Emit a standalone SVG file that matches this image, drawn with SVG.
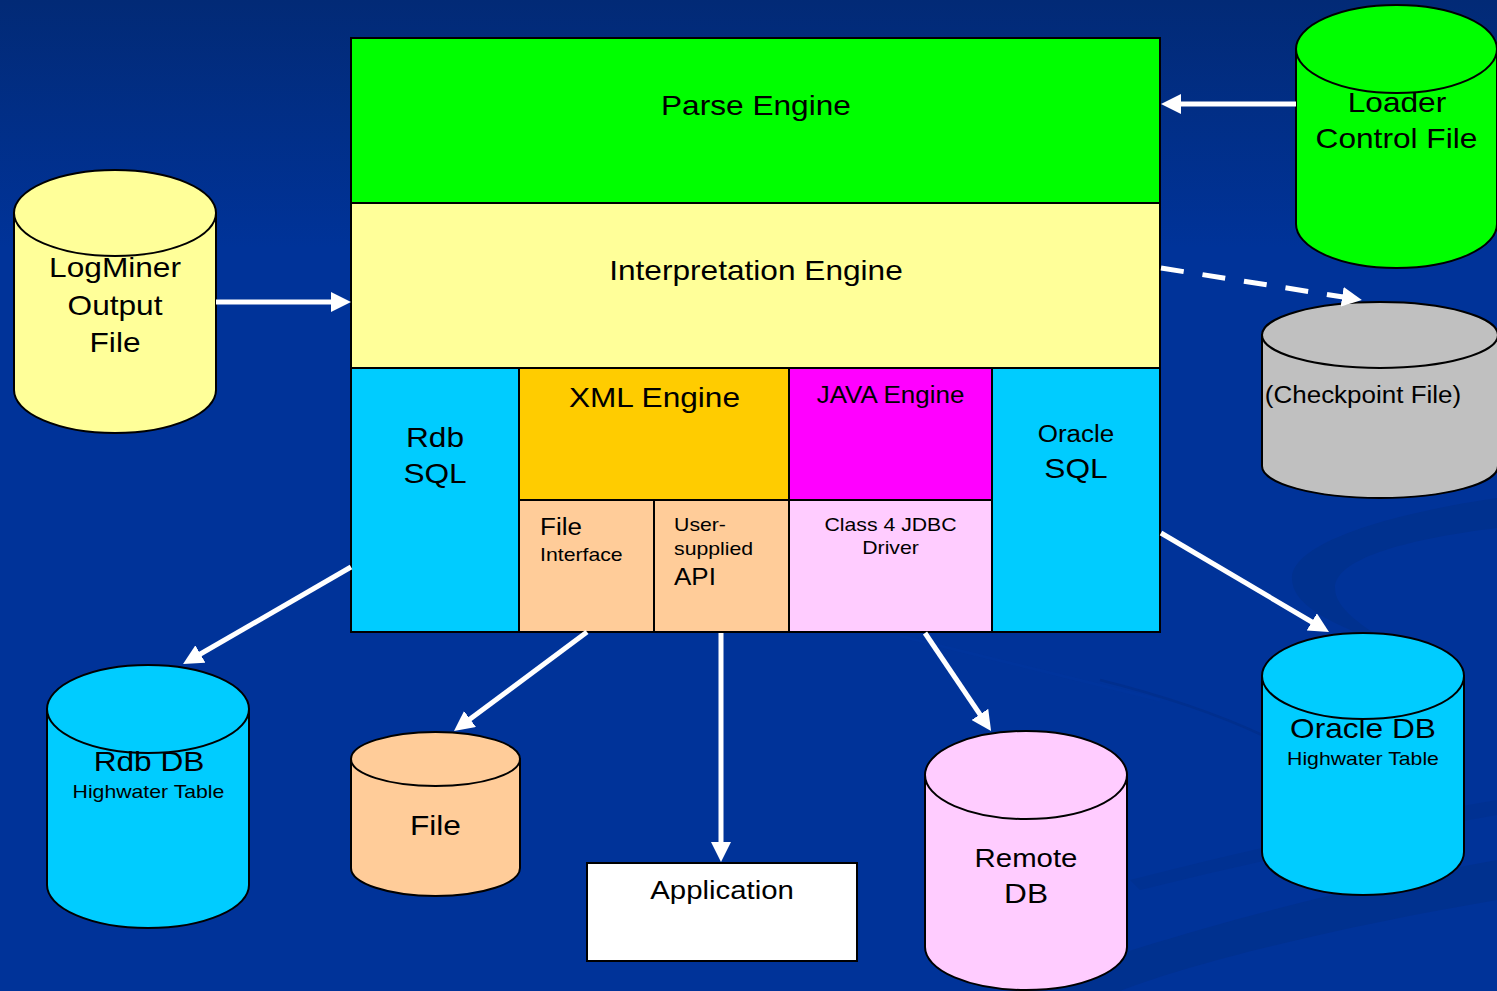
<svg xmlns="http://www.w3.org/2000/svg" width="1497" height="991" viewBox="0 0 1497 991">
<defs>
<linearGradient id="bg" x1="0" y1="0" x2="0" y2="1">
<stop offset="0" stop-color="#022a76"/>
<stop offset="0.25" stop-color="#003399"/>
<stop offset="1" stop-color="#003399"/>
</linearGradient>
<marker id="ah" viewBox="0 -10 20 20" refX="10" refY="0" markerWidth="20" markerHeight="20" markerUnits="userSpaceOnUse" orient="auto">
<path d="M0,-10 L20,0 L0,10 z" fill="#fff"/>
</marker>
<style>
.box{stroke:#000;stroke-width:2}
.cyl{stroke:#000;stroke-width:2}
text{font-family:"Liberation Sans",Arial,sans-serif;fill:#000}
.c{text-anchor:middle}
.f28{font-size:28px}
.f26{font-size:26px}
.f23{font-size:23px}
.f19{font-size:18.8px}
.con{stroke:#fff;stroke-width:5;fill:none;marker-end:url(#ah)}
.sw{fill:#00318f}
</style>
</defs>
<rect x="0" y="0" width="1497" height="991" fill="url(#bg)"/>
<g id="swooshes">
<path class="sw" d="M1497,498 C1380,515 1292,545 1292,578 C1292,610 1345,628 1400,650 C1360,625 1335,608 1335,588 C1335,560 1400,540 1497,528 Z"/>
<path class="sw" d="M1010,991 C1150,940 1330,890 1497,860 L1497,900 C1350,925 1200,960 1120,991 Z"/>
<path class="sw" d="M1130,880 C1250,850 1380,820 1497,800 L1497,815 C1380,835 1260,860 1140,890 Z" opacity="0.7"/>
<path d="M1100,680 C1180,700 1230,720 1262,735" stroke="#002f8e" stroke-width="2.5" fill="none"/>
<path d="M900,636 C1000,660 1100,685 1160,700" stroke="#0036a0" stroke-width="3" fill="none" opacity="0.5"/>
</g>
<g id="parse-engine">
<rect class="box" x="351" y="38" width="809" height="165" fill="#00ff00"/>
<text class="c f28" transform="scale(1.13 1)" x="669" y="115">Parse Engine</text>
</g>
<g id="interpretation-engine">
<rect class="box" x="351" y="203" width="809" height="165" fill="#ffff99"/>
<text class="c f28" transform="scale(1.13 1)" x="669" y="280">Interpretation Engine</text>
</g>
<g id="rdb-sql">
<rect class="box" x="351" y="368" width="168" height="264" fill="#00ccff"/>
<text class="c f28" transform="scale(1.13 1)" x="385" y="447">Rdb</text>
<text class="c f28" transform="scale(1.13 1)" x="385" y="483">SQL</text>
</g>
<g id="xml-engine">
<rect class="box" x="519" y="368" width="270" height="132" fill="#ffcc00"/>
<text class="c f28" transform="scale(1.13 1)" x="579.2" y="407">XML Engine</text>
</g>
<g id="file-interface">
<rect class="box" x="519" y="500" width="135" height="132" fill="#ffcc99"/>
<text class="f23" transform="scale(1.13 1)" x="477.9" y="535">File</text>
<text class="f19" transform="scale(1.13 1)" x="477.9" y="561">Interface</text>
</g>
<g id="user-api">
<rect class="box" x="654" y="500" width="135" height="132" fill="#ffcc99"/>
<text class="f19" transform="scale(1.13 1)" x="596.5" y="531">User-</text>
<text class="f19" transform="scale(1.13 1)" x="596.5" y="555">supplied</text>
<text class="f23" transform="scale(1.13 1)" x="596.5" y="585">API</text>
</g>
<g id="java-engine">
<rect class="box" x="789" y="368" width="203" height="132" fill="#ff00ff"/>
<text class="c f23" transform="scale(1.13 1)" x="788.1" y="403">JAVA Engine</text>
</g>
<g id="jdbc-driver">
<rect class="box" x="789" y="500" width="203" height="132" fill="#ffccff"/>
<text class="c f19" transform="scale(1.13 1)" x="788.1" y="531">Class 4 JDBC</text>
<text class="c f19" transform="scale(1.13 1)" x="788.1" y="554">Driver</text>
</g>
<g id="oracle-sql">
<rect class="box" x="992" y="368" width="168" height="264" fill="#00ccff"/>
<text class="c f23" transform="scale(1.13 1)" x="952.2" y="442">Oracle</text>
<text class="c f28" transform="scale(1.13 1)" x="952.2" y="478">SQL</text>
</g>
<g id="loader-control-file">
<path class="cyl" fill="#00ff00" d="M1296,49 V224 A100.5,44 0 0 0 1497,224 V49 Z"/>
<ellipse class="cyl" fill="#00ff00" cx="1396.5" cy="49" rx="100.5" ry="44"/>
<text class="c f28" transform="scale(1.13 1)" x="1236.3" y="112">Loader</text>
<text class="c f28" transform="scale(1.13 1)" x="1235.8" y="148">Control File</text>
</g>
<g id="logminer-output-file">
<path class="cyl" fill="#ffff99" d="M14,213 V390 A101,43 0 0 0 216,390 V213 Z"/>
<ellipse class="cyl" fill="#ffff99" cx="115" cy="213" rx="101" ry="43"/>
<text class="c f28" transform="scale(1.13 1)" x="101.8" y="277">LogMiner</text>
<text class="c f28" transform="scale(1.13 1)" x="101.8" y="315">Output</text>
<text class="c f28" transform="scale(1.13 1)" x="101.8" y="352">File</text>
</g>
<g id="checkpoint-file">
<path class="cyl" fill="#c0c0c0" d="M1262,335 V466 A118,32 0 0 0 1498,466 V335 Z"/>
<ellipse class="cyl" fill="#c0c0c0" cx="1380" cy="335" rx="118" ry="33"/>
<text class="c f23" transform="scale(1.13 1)" x="1206.2" y="403">(Checkpoint File)</text>
</g>
<g id="rdb-db">
<path class="cyl" fill="#00ccff" d="M47,709 V885 A101,43 0 0 0 249,885 V709 Z"/>
<ellipse class="cyl" fill="#00ccff" cx="148" cy="709" rx="101" ry="44"/>
<text class="c f28" transform="scale(1.13 1)" x="131.9" y="771">Rdb DB</text>
<text class="c f19" transform="scale(1.13 1)" x="131.4" y="798">Highwater Table</text>
</g>
<g id="file-db">
<path class="cyl" fill="#ffcc99" d="M351,759 V868 A84.5,28 0 0 0 520,868 V759 Z"/>
<ellipse class="cyl" fill="#ffcc99" cx="435.5" cy="759" rx="84.5" ry="27"/>
<text class="c f28" transform="scale(1.13 1)" x="385.4" y="835">File</text>
</g>
<g id="application">
<rect class="box" x="587" y="863" width="270" height="98" fill="#ffffff"/>
<text class="c f26" transform="scale(1.13 1)" x="639" y="899">Application</text>
</g>
<g id="remote-db">
<path class="cyl" fill="#ffccff" d="M925,775 V947 A101,43 0 0 0 1127,947 V775 Z"/>
<ellipse class="cyl" fill="#ffccff" cx="1026" cy="775" rx="101" ry="44"/>
<text class="c f26" transform="scale(1.13 1)" x="908" y="867">Remote</text>
<text class="c f28" transform="scale(1.13 1)" x="908" y="903">DB</text>
</g>
<g id="oracle-db">
<path class="cyl" fill="#00ccff" d="M1262,676 V852 A101,43 0 0 0 1464,852 V676 Z"/>
<ellipse class="cyl" fill="#00ccff" cx="1363" cy="676" rx="101" ry="43"/>
<text class="c f28" transform="scale(1.13 1)" x="1206.2" y="738">Oracle DB</text>
<text class="c f19" transform="scale(1.13 1)" x="1206.2" y="765">Highwater Table</text>
</g>
<g id="connectors">
<line class="con" x1="1296" y1="104" x2="1171" y2="104"/>
<line class="con" x1="216" y1="302" x2="341" y2="302"/>
<line class="con" x1="1161" y1="268" x2="1352" y2="298.4" stroke-dasharray="23 19"/>
<line class="con" x1="351" y1="567" x2="191.7" y2="659"/>
<line class="con" x1="587" y1="632" x2="462" y2="725"/>
<line class="con" x1="721" y1="633" x2="721" y2="852"/>
<line class="con" x1="925" y1="633" x2="985.5" y2="722.7"/>
<line class="con" x1="1161" y1="533" x2="1320.4" y2="627"/>
</g>
</svg>
